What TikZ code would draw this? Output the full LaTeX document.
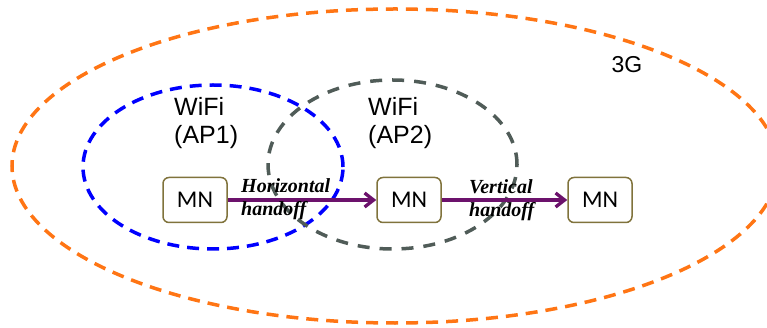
\documentclass[tikz,border=0pt]{standalone}
\usepackage{fontspec}
\setmainfont{Liberation Sans}
\newfontfamily\mnfont{Carlito}
\newfontfamily\labelfont{Liberation Serif}
\usetikzlibrary{arrows.meta}
\definecolor{cellorange}{RGB}{255,117,20}
\definecolor{apblue}{RGB}{0,0,255}
\definecolor{apgray}{RGB}{80,92,88}
\definecolor{hopurple}{RGB}{108,18,108}
\definecolor{mnborder}{RGB}{128,115,60}
\begin{document}
\begin{tikzpicture}[x=1pt,y=-1pt,
  coverage/.style={line width=3.5pt, dash pattern=on 12pt off 8pt},
  mnbox/.style={draw=mnborder, line width=1.5pt, rounded corners=6pt, fill=white,
    minimum width=64pt, minimum height=45pt, inner sep=0pt,
    font=\mnfont\fontsize{24}{28}\selectfont},
  handoff/.style={draw=hopurple, line width=3.3pt,
    -{Straight Barb[length=9pt,width=14pt]}},
  hlabel/.style={font=\labelfont\bfseries\itshape\fontsize{20}{23}\selectfont,
    align=left, anchor=north west, inner sep=0pt},
  netlabel/.style={font=\fontsize{25}{28}\selectfont,
    align=left, anchor=north west, inner sep=0pt}]
\useasboundingbox (0,0) rectangle (767,328);

% coverage areas
\draw[coverage, cellorange] (395,166) ellipse [x radius=383pt, y radius=157pt];
\draw[coverage, apblue] (213,167) ellipse [x radius=130pt, y radius=82pt];
\draw[coverage, apgray, dash pattern=on 12pt off 10pt] (392.5,164.5) ellipse [x radius=124.5pt, y radius=84.5pt];

% network names
\node[font=\fontsize{23}{27}\selectfont, inner sep=0pt] (g3) at (627,65) {3G};
\node[netlabel] (ap1) at (174,97) {WiFi\\(AP1)};
\node[netlabel] (ap2) at (368,97) {WiFi\\(AP2)};

% mobile node positions
\node[mnbox] (mn1) at (195,200) {MN};
\node[mnbox] (mn2) at (409,200) {MN};
\node[mnbox] (mn3) at (600,200) {MN};

% handoffs
\draw[handoff] (mn1) -- (mn2);
\draw[handoff] (mn2) -- (mn3);
\node[hlabel] (hh) at (241,178.5) {Horizontal\\handoff};
\node[hlabel] (vh) at (469,179.5) {Vertical\\handoff};
\end{tikzpicture}
\end{document}
